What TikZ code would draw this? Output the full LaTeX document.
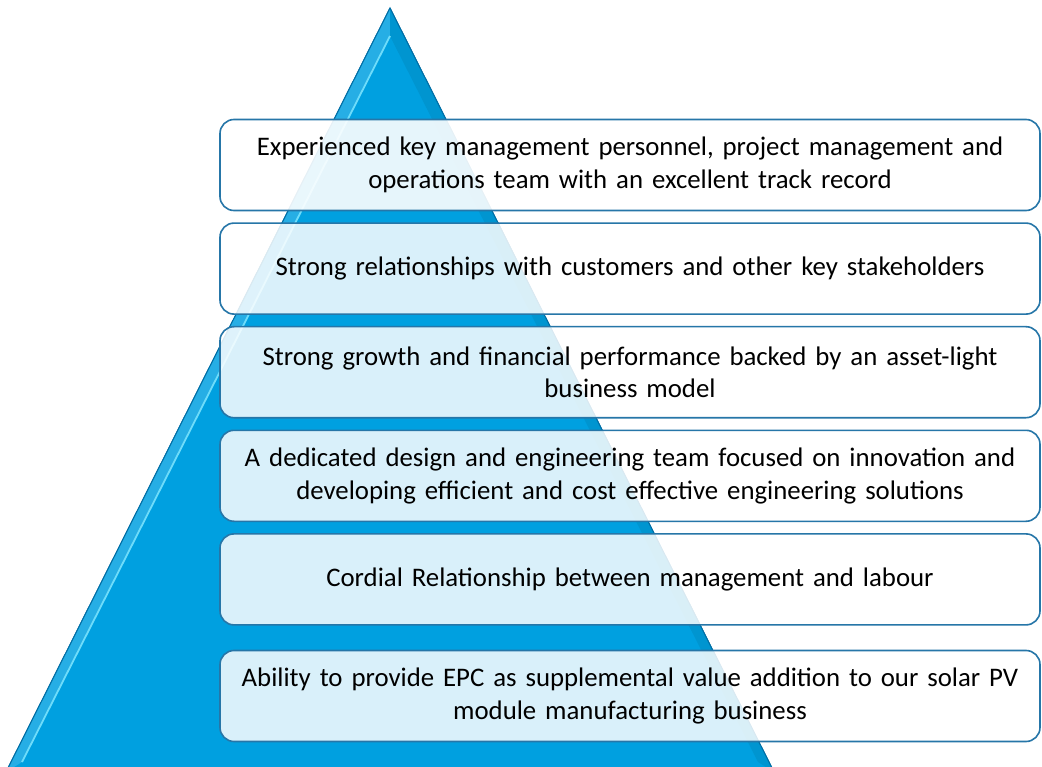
\documentclass[tikz,border=0pt]{standalone}
\usepackage{fontspec}
\setmainfont{Carlito}
\usetikzlibrary{positioning}
\definecolor{azul}{RGB}{0,160,224}
\definecolor{azulOsc}{RGB}{0,110,165}
\definecolor{azulClaro}{RGB}{110,220,250}
\definecolor{borde}{RGB}{38,118,168}
\tikzset{
    caja/.style={draw=borde, line width=1.6pt, rounded corners=14pt, fill=white, fill opacity=0.85, text opacity=1,
                 minimum width=820pt, minimum height=91pt, text width=812pt, align=center, inner sep=0pt,
                 font=\fontsize{26.8}{32.5}\selectfont},
    piram/.style={fill=azul, draw=azulOsc, line width=1pt},
}
\begin{document}
\begin{tikzpicture}[x=1pt, y=-1pt, node distance=11pt]
    \clip (0,0) rectangle (1042,767);
    \fill[white] (0,0) rectangle (1042,767);
    % pyramid
    \coordinate (ap) at (390,8);
    \coordinate (bl) at (6,772);
    \coordinate (br) at (774,772);
    \coordinate (iap) at (390,36);
    \coordinate (ibl) at (22,762);
    \coordinate (ibr) at (758,762);
    \draw[piram] (ap) -- (bl) -- (br) -- cycle;
    \fill[azul!85!white] (ap) -- (bl) -- (ibl) -- (iap) -- cycle;
    \fill[azul!93!black] (ap) -- (br) -- (ibr) -- (iap) -- cycle;
    \draw[azulClaro, line width=1.8pt] (iap) -- (ibl);
    \draw[azulOsc, line width=1pt] (ap) -- (bl) (ap) -- (br);

    % boxes
    \node[caja, fill opacity=0.9] (b1) at (630,165) {Experienced key management personnel, project management and\\ operations team with an excellent track record};
    \node[caja, below=of b1] (b2) {Strong relationships with customers and other key stakeholders};
    \node[caja, below=of b2] (b3) {Strong growth and financial performance backed by an asset-light\\ business model};
    \node[caja, below=of b3] (b4) {A dedicated design and engineering team focused on innovation and\\ developing efficient and cost effective engineering solutions};
    \node[caja, below=of b4] (b5) {Cordial Relationship between management and labour};
    \node[caja, below=24pt of b5] (b6) {Ability to provide EPC as supplemental value addition to our solar PV\\ module manufacturing business};
\end{tikzpicture}
\end{document}
